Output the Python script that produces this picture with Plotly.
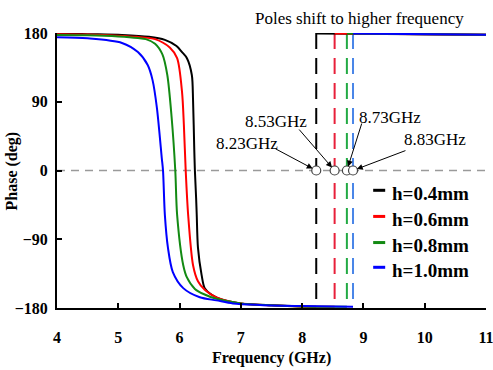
import plotly.graph_objects as go

# ---------------- data ----------------
series_names = ["h=0.4mm", "h=0.6mm", "h=0.8mm", "h=1.0mm"]
curve_colors = ["#000000", "#ff0000", "#138a13", "#0000ff"]
pole_colors = ["#000000", "#e8203a", "#22aa44", "#4a86e8"]
pole_freqs = [8.23, 8.53, 8.73, 8.83]
pole_labels = ["8.23GHz", "8.53GHz", "8.73GHz", "8.83GHz"]

# phase before the pole (freq GHz, phase deg)
f_h04 = [4.0, 4.5, 5.06, 5.5, 5.76, 5.95, 6.04, 6.12, 6.2, 6.22, 6.24, 6.25, 6.27, 6.28, 6.30, 6.36, 6.41, 6.53, 6.7, 7.0, 7.5, 8.0, 8.23]
p_h04 = [179.5, 178.5, 177.4, 175, 171, 163, 155, 147, 125, 92, 27, 0, -36, -58, -101, -137, -154, -163, -169, -174, -176.5, -178, -178.5]

f_h06 = [4.0, 4.5, 5.0, 5.3, 5.6, 5.84, 5.96, 6.04, 6.07, 6.10, 6.14, 6.22, 6.30, 6.41, 6.6, 6.8, 7.0, 7.5, 8.0, 8.53]
p_h06 = [178.5, 178, 176.5, 175, 172, 161, 147, 103, 60, 0, -58, -124, -145, -156, -166, -171, -174, -176.5, -178, -178.5]

f_h08 = [4.0, 4.5, 5.0, 5.32, 5.45, 5.6, 5.72, 5.8, 5.87, 5.93, 5.96, 6.06, 6.12, 6.25, 6.4, 6.6, 7.0, 7.5, 8.0, 8.73]
p_h08 = [177.5, 177, 175.5, 173.5, 172, 166, 152, 125, 70, 0, -58, -124, -140, -155, -162, -168, -174, -176.5, -178, -178.5]

f_h10 = [4.0, 4.5, 5.06, 5.32, 5.48, 5.56, 5.63, 5.71, 5.73, 5.76, 5.81, 5.89, 6.06, 6.33, 6.6, 6.87, 7.31, 8.0, 8.83]
p_h10 = [174.5, 173, 167, 155, 138, 118, 82, 16, 0, -58, -101, -133, -154, -166, -170, -174, -176, -177.5, -178.5]

# phase after the pole (wrapped to +180); first point sits at each pole frequency
f_after_tail = [9.5, 10.5, 11.0]
p_after = [179.5, 179, 178.3, 177.6]

pre_f = [f_h04, f_h06, f_h08, f_h10]
pre_p = [p_h04, p_h06, p_h08, p_h10]

x_ticks = [4, 5, 6, 7, 8, 9, 10, 11]
y_ticks = [-180, -90, 0, 90, 180]

SERIF = "Liberation Serif"

fig = go.Figure()

# zero reference line
fig.add_trace(go.Scatter(x=[x_ticks[0], x_ticks[-1]], y=[0, 0], mode="lines",
                         line=dict(color="#9a9a9a", width=1.5, dash="8px,6px"),
                         showlegend=False, hoverinfo="skip"))

# vertical dashed pole lines (drawn top-down so a dash meets the top line)
for pf, pc in zip(pole_freqs, pole_colors):
    fig.add_trace(go.Scatter(x=[pf, pf], y=[y_ticks[-1], y_ticks[0]], mode="lines",
                             line=dict(color=pc, width=2, dash="16px,9px"),
                             showlegend=False, hoverinfo="skip"))

# phase curves: before the pole (smooth) and after the pole (top line)
for name, col, fx, py_, pf in zip(series_names, curve_colors, pre_f, pre_p, pole_freqs):
    fig.add_trace(go.Scatter(x=fx, y=py_, mode="lines", name=name,
                             line=dict(color=col, width=2, shape="spline", smoothing=0.8),
                             showlegend=False))
    fig.add_trace(go.Scatter(x=[pf] + f_after_tail, y=p_after, mode="lines", name=name,
                             line=dict(color=col, width=2), showlegend=False))

# pole markers
fig.add_trace(go.Scatter(x=pole_freqs, y=[0] * len(pole_freqs), mode="markers",
                         marker=dict(symbol="circle", size=9, color="white",
                                     line=dict(color="#444444", width=1.2)),
                         showlegend=False, hoverinfo="skip"))

ann = []
# pole labels (text) and arrows
text_pos = [(7.10, 34.7), (7.57, 63.5), (9.43, 70.0), (10.17, 40.0)]
arrow_tail = [(7.54, 29.5), (7.93, 55.6), (8.98, 63.5), (9.71, 26.8)]
for lab, pf, (tx, ty), (ax_, ay_) in zip(pole_labels, pole_freqs, text_pos, arrow_tail):
    ann.append(dict(x=tx, y=ty, xref="x", yref="y", text=lab, showarrow=False,
                    xanchor="center", yanchor="middle",
                    font=dict(family=SERIF, size=17, color="black")))
    ann.append(dict(x=pf, y=0, xref="x", yref="y", ax=ax_, ay=ay_, axref="x", ayref="y",
                    text="", showarrow=True, arrowhead=2, arrowsize=1.2, arrowwidth=1,
                    arrowcolor="black", standoff=4))

# title
ann.append(dict(x=0.706, y=1.051, xref="paper", yref="paper", xanchor="center", yanchor="middle",
                text="Poles shift to higher frequency", showarrow=False,
                font=dict(family=SERIF, size=17, color="black")))
# axis titles
ann.append(dict(x=0.5, y=-0.182, xref="paper", yref="paper", xanchor="center", yanchor="middle",
                text="<b>Frequency (GHz)</b>",
                showarrow=False, font=dict(family=SERIF, size=16, color="black")))
ann.append(dict(x=-0.105, y=0.5, xref="paper", yref="paper", xanchor="center", yanchor="middle",
                text="<b>Phase (deg)</b>",
                textangle=-90, showarrow=False, font=dict(family=SERIF, size=16, color="black")))

# legend (short coloured dashes + bold labels)
shapes = []
leg_y = [0.418, 0.323, 0.228, 0.138]
for name, col, ly in zip(series_names, curve_colors, leg_y):
    shapes.append(dict(type="line", xref="paper", yref="paper", x0=0.737, x1=0.765,
                       y0=ly + 0.01, y1=ly + 0.01, line=dict(color=col, width=3)))
    ann.append(dict(x=0.776, y=ly, xref="paper", yref="paper", xanchor="left", yanchor="middle",
                    text="<b>" + name + "</b>", showarrow=False,
                    font=dict(family=SERIF, size=19, color="black")))

fig.update_layout(
    width=493, height=370,
    margin=dict(l=57, r=7, t=33, b=62, autoexpand=False),
    paper_bgcolor="white", plot_bgcolor="white",
    showlegend=False,
    annotations=ann, shapes=shapes,
    font=dict(family=SERIF, color="black"),
)
fig.update_xaxes(range=[x_ticks[0], x_ticks[-1]], tickvals=x_ticks, ticks="inside", ticklen=5,
                 tickwidth=1.5, tickcolor="black", showline=True, linewidth=2, linecolor="black",
                 showgrid=False, zeroline=False, ticklabelstandoff=14, ticklabeloverflow="allow",
                 automargin=False,
                 tickfont=dict(family=SERIF, size=16, color="black", weight="bold"))
fig.update_yaxes(range=[y_ticks[0], y_ticks[-1]], tickvals=y_ticks, ticks="inside", ticklen=5,
                 tickwidth=1.5, tickcolor="black", showline=True, linewidth=2, linecolor="black",
                 showgrid=False, zeroline=False, ticklabelstandoff=4, automargin=False,
                 tickfont=dict(family=SERIF, size=16, color="black", weight="bold"))

fig.write_html("out.html")
